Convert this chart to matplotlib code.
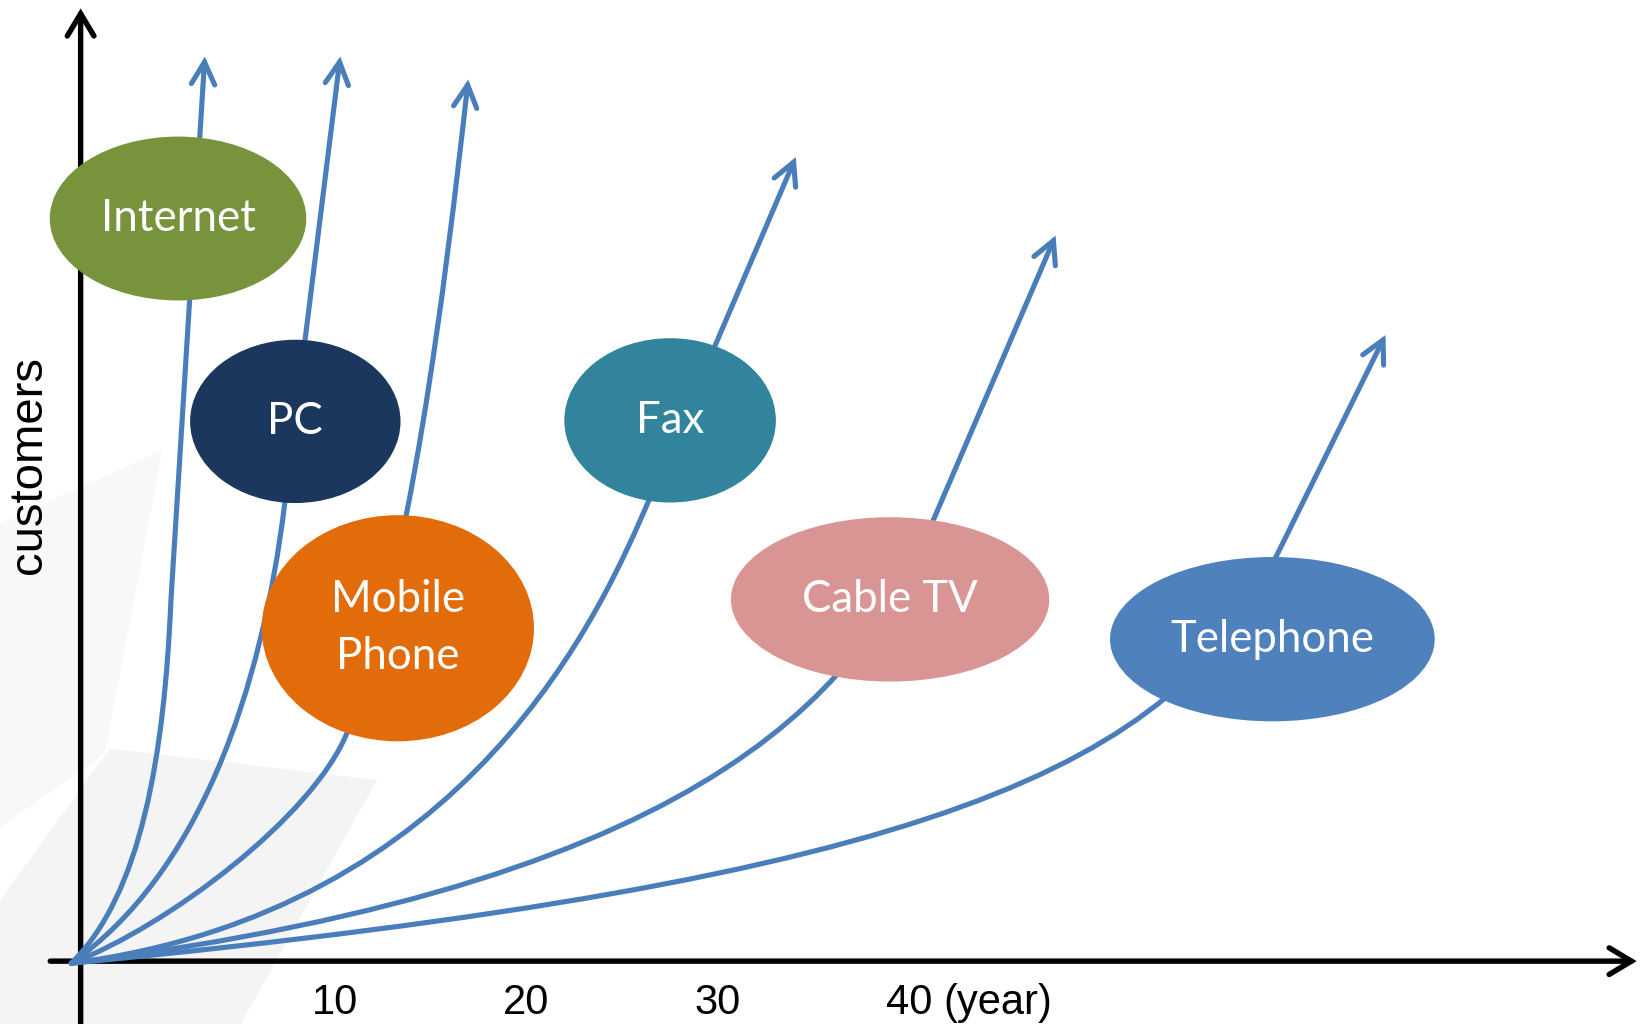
import matplotlib
matplotlib.use("Agg")
import matplotlib.pyplot as plt
from matplotlib.patches import Ellipse, FancyArrowPatch, Polygon, ArrowStyle
from matplotlib.path import Path

# ---------------- data (years on x, customers on y, arbitrary units) -------------
products = ["Internet", "PC", "Mobile\nPhone", "Fax", "Cable TV", "Telephone"]
bubble_x = [1.79, 7.92, 13.28, 27.51, 39.01, 58.99]
bubble_y = [78.81, 57.28, 35.33, 57.39, 38.39, 34.17]
bubble_w = [13.41, 11.00, 14.23, 11.06, 16.64, 16.97]
bubble_h = [17.39, 17.33, 24.00, 17.44, 17.44, 17.44]
bubble_colors = ["#77933C", "#1B375E", "#E36C0A", "#31849B", "#D99594", "#4F81BD"]

# growth curves: Bezier control points (M = start, C = cubic control, L = straight)
internet_x = [-3.79, -0.13, 1.08, 1.42, 3.19]
internet_y = [-0.22, 7.00, 22.00, 38.33, 96.00]
pc_x = [-3.79, 2.88, 6.17, 7.37, 10.27]
pc_y = [-0.22, 9.22, 28.67, 48.61, 96.00]
mobile_x = [-3.79, 1.24, 8.85, 10.62, 13.91, 15.73, 16.96]
mobile_y = [-0.22, 3.67, 15.33, 24.22, 40.89, 71.33, 93.56]
fax_x = [-3.79, 17.12, 23.96, 26.42, 34.08]
fax_y = [-0.22, 5.33, 37.33, 49.00, 85.33]
cable_x = [-3.79, 30.80, 37.78, 41.31, 47.66]
cable_y = [-0.22, 8.67, 30.33, 47.00, 77.00]
phone_x = [-3.79, 41.75, 53.84, 59.15, 64.90]
phone_y = [-0.22, 8.67, 20.89, 42.78, 66.44]
curve_kinds = ["MCCCL", "MCCCL", "MCCCCCC", "MCCCL", "MCCCL", "MCCCL"]

x_tick_values = [10, 20, 30, 40]
x_tick_labels = ["10", "20", "30", "40"]
x_unit = "(year)"
y_title = "customers"

# background decoration (very light grey facets)
bg1_x = [-7.52, 0.97, -2.04, -7.52]
bg1_y = [46.44, 54.20, 22.00, 14.20]
bg2_x = [-1.77, 12.19, 5.07, -7.52, -7.52]
bg2_y = [22.56, 19.22, -6.67, -6.67, 6.44]

# ---------------- figure ----------------
fig = plt.figure(figsize=(16.42, 10.24), dpi=100)
ax = fig.add_axes([0, 0, 1, 1])
ax.set_xlim(-7.515, 78.31)
ax.set_ylim(-6.67, 102.0)
ax.axis("off")

ax.add_patch(Polygon(list(zip(bg1_x, bg1_y)), closed=True, facecolor="#F8F8F8",
                     edgecolor="none", zorder=0))
ax.add_patch(Polygon(list(zip(bg2_x, bg2_y)), closed=True, facecolor="#F4F4F4",
                     edgecolor="none", zorder=0))

# axes arrows
axis_style = ArrowStyle("->", head_length=0.8, head_width=0.48)
for start, end in [((-4.89, 0), (78.03, 0)), ((-3.30, -6.67), (-3.30, 101.1))]:
    ax.add_patch(FancyArrowPatch(start, end, arrowstyle=axis_style,
                                 mutation_scale=20, lw=3.9, color="black",
                                 shrinkA=0, shrinkB=0, capstyle="round",
                                 joinstyle="miter", zorder=1))

# curves
code_map = {"M": Path.MOVETO, "C": Path.CURVE4, "L": Path.LINETO}
curve_style = ArrowStyle("->", head_length=0.8, head_width=0.42)
curves = [(internet_x, internet_y), (pc_x, pc_y), (mobile_x, mobile_y),
          (fax_x, fax_y), (cable_x, cable_y), (phone_x, phone_y)]
for (cx, cy), kinds in zip(curves, curve_kinds):
    path = Path(list(zip(cx, cy)), [code_map[k] for k in kinds])
    ax.add_patch(FancyArrowPatch(path=path, arrowstyle=curve_style,
                                 mutation_scale=20, lw=3.7, color="#4A7EBB",
                                 capstyle="round", joinstyle="miter", zorder=2))

# bubbles
for name, x, y, w, h, col in zip(products, bubble_x, bubble_y, bubble_w,
                                 bubble_h, bubble_colors):
    ax.add_patch(Ellipse((x, y), w, h, facecolor=col, edgecolor="none", zorder=3))
    ax.text(x, y, name, ha="center", va="center", color="white",
            fontsize=31.5, family=["Lato", "DejaVu Sans"], linespacing=1.5,
            zorder=4)

# tick labels
for v, lab in zip(x_tick_values, x_tick_labels):
    ax.text(v, -4.4, lab, ha="center", va="center", fontsize=30,
            family=["Liberation Sans", "DejaVu Sans"], color="black")
ax.annotate(x_unit, xy=(x_tick_values[-1], -4.4), xytext=(25, 0),
            textcoords="offset points", ha="left", va="center", fontsize=30,
            family=["Liberation Sans", "DejaVu Sans"], color="black")

ax.text(-6.0, 52.7, y_title, rotation=90, ha="center", va="center",
        fontsize=34, family=["Liberation Sans", "DejaVu Sans"], color="black")

fig.savefig("out.png", dpi=100)
